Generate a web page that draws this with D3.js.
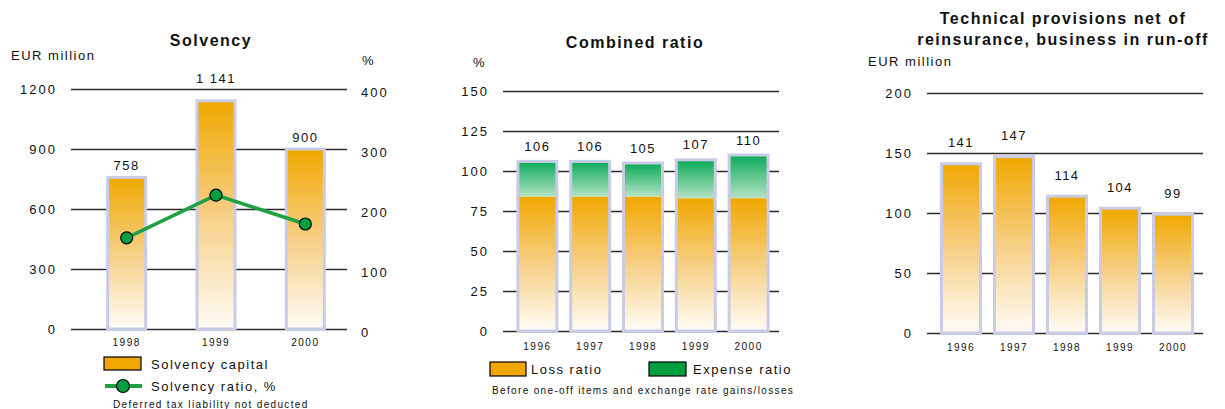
<!DOCTYPE html>
<html>
<head>
<meta charset="utf-8">
<script src="https://cdn.jsdelivr.net/npm/d3@7"></script>
<style>
  html, body { margin: 0; padding: 0; background: #fff; }
  svg { display: block; font-family: "Liberation Sans", Arial, Helvetica, sans-serif; }
  text { fill: #111; }
</style>
</head>
<body>
<svg id="chart" width="1225" height="409"></svg>
<script>
// ---------- DATA ----------
const solvYears = ["1998", "1999", "2000"];
const solvCapital = [758, 1141, 900];
const solvCapitalLabels = ["758", "1 141", "900"];
const solvRatio = [152, 223, 175];
const solvLeftTicks = [0, 300, 600, 900, 1200];
const solvRightTicks = [0, 100, 200, 300, 400];

const crYears = ["1996", "1997", "1998", "1999", "2000"];
const lossRatio = [84, 84, 84, 83, 83];
const expenseRatio = [22, 22, 21, 24, 27];
const combinedTotal = [106, 106, 105, 107, 110];
const crTicks = [0, 25, 50, 75, 100, 125, 150];

const tpYears = ["1996", "1997", "1998", "1999", "2000"];
const tpValues = [141, 147, 114, 104, 99];
const tpTicks = [0, 50, 100, 150, 200];

// ---------- STYLE ----------
const ORANGE = "#f0a800";
const GREEN = "#00a040";
const LINE_GREEN = "#1fa043";
const BAR_STROKE = "#c8cce6";
const GRID = "#2a2a2a";

const svg = d3.select("#chart");
const defs = svg.append("defs");
function grad(id, stops) {
  const g = defs.append("linearGradient").attr("id", id)
    .attr("x1", 0).attr("y1", 0).attr("x2", 0).attr("y2", 1);
  stops.forEach(s => g.append("stop").attr("offset", s[0]).attr("stop-color", s[1]));
}
grad("gOrange", [[0, "#f0a800"], [0.5, "#f7cf85"], [1, "#fffcf6"]]);
grad("gGreen", [[0, "#0aaa58"], [1, "#b4e2c4"]]);

function styleText(sel, size, ls, weight) {
  sel.style("font-size", size + "px").style("letter-spacing", ls + "px")
     .style("font-weight", weight || "normal").attr("fill", "#111");
  return sel;
}

function gridAxis(g, scale, x0, x1, ticks, padding) {
  const ax = d3.axisLeft(scale).tickValues(ticks).tickFormat(d3.format("d"))
    .tickSize(-(x1 - x0)).tickPadding(padding);
  const a = g.append("g").attr("transform", `translate(${x0},0)`).call(ax);
  a.select(".domain").remove();
  a.selectAll(".tick line").attr("stroke", GRID).attr("stroke-width", 1.3);
  styleText(a.selectAll(".tick text"), 13, 2).attr("dy", "0.35em");
  a.attr("font-family", null);
  return a;
}
function yearAxis(g, xs, y0, dy) {
  const ax = d3.axisBottom(xs).tickSize(0);
  const a = g.append("g").attr("transform", `translate(0,${y0})`).call(ax);
  a.select(".domain").remove();
  styleText(a.selectAll(".tick text"), 10, 1.5).attr("y", dy).attr("dy", "0.35em");
  a.attr("font-family", null);
  return a;
}
function label(g, x, y, txt, size, ls, anchor, weight) {
  return styleText(g.append("text").attr("x", x).attr("y", y).attr("dy", "0.35em")
    .attr("text-anchor", anchor || "start").text(txt), size, ls, weight);
}

// =============== CHART 1: Solvency ===============
{
  const g = svg.append("g");
  const gx0 = 71, gx1 = 347;
  const yL = d3.scaleLinear().domain([0, 1200]).range([329, 89]);
  const yR = d3.scaleLinear().domain([0, 400]).range([329, 89]);
  const x = d3.scaleBand().domain(solvYears).range([82, 350]).paddingInner(0.56).paddingOuter(0.28);
  const bw = 38;

  gridAxis(g, yL, gx0, gx1, solvLeftTicks, 14);
  const ar = g.append("g").attr("transform", `translate(${gx1},0)`)
    .call(d3.axisRight(yR).tickValues(solvRightTicks).tickFormat(d3.format("d")).tickSize(0).tickPadding(14));
  ar.select(".domain").remove();
  ar.attr("font-family", null);
  styleText(ar.selectAll(".tick text"), 13, 2).attr("dy", "0.6em");

  const cx = d => x(d) + x.bandwidth() / 2;
  g.selectAll(".b1").data(solvYears).enter().append("rect")
    .attr("x", d => cx(d) - bw / 2)
    .attr("y", (d, i) => yL(solvCapital[i]))
    .attr("width", bw)
    .attr("height", (d, i) => yL(0) - yL(solvCapital[i]))
    .attr("fill", "url(#gOrange)")
    .attr("stroke", BAR_STROKE).attr("stroke-width", 3);

  const top = yL(1200);
  solvYears.forEach((d, i) => {
    let ly = yL(solvCapital[i]) - 12;
    if (ly < top + 6) ly = top - 11;
    label(g, cx(d), ly, solvCapitalLabels[i], 13, 1.5, "middle");
  });

  const line = d3.line().x((d, i) => cx(solvYears[i])).y(d => yR(d));
  g.append("path").datum(solvRatio).attr("d", line)
    .attr("fill", "none").attr("stroke", LINE_GREEN).attr("stroke-width", 3.5);
  g.selectAll(".pt").data(solvRatio).enter().append("circle")
    .attr("cx", (d, i) => cx(solvYears[i])).attr("cy", d => yR(d)).attr("r", 6)
    .attr("fill", GREEN).attr("stroke", "#000").attr("stroke-width", 1.2);

  yearAxis(g, x, 329, 13);

  label(g, 211, 40, "Solvency", 16, 1.5, "middle", "bold");
  label(g, 11, 55, "EUR million", 13, 1.5);
  label(g, 362, 60, "%", 13, 1.5);

  // legend
  g.append("rect").attr("x", 104).attr("y", 357).attr("width", 37).attr("height", 13)
    .attr("fill", ORANGE).attr("stroke", "#000").attr("stroke-width", 1.2);
  label(g, 151, 364, "Solvency capital", 13, 1.5);
  g.append("line").attr("x1", 105).attr("x2", 142).attr("y1", 386).attr("y2", 386)
    .attr("stroke", LINE_GREEN).attr("stroke-width", 4);
  g.append("circle").attr("cx", 123).attr("cy", 386).attr("r", 6.5)
    .attr("fill", GREEN).attr("stroke", "#000").attr("stroke-width", 1.2);
  label(g, 151, 386, "Solvency ratio, %", 13, 1.5);
  label(g, 113, 404, "Deferred tax liability not deducted", 10, 1.35);
}

// =============== CHART 2: Combined ratio ===============
{
  const g = svg.append("g");
  const gx0 = 503, gx1 = 779;
  const y = d3.scaleLinear().domain([0, 150]).range([331, 91]);
  const x = d3.scaleBand().domain(crYears).range([511, 775]).paddingInner(0.26).paddingOuter(0.13);
  const bw = 39;
  const cx = d => x(d) + x.bandwidth() / 2;

  gridAxis(g, y, gx0, gx1, crTicks, 14);

  crYears.forEach((d, i) => {
    const l = lossRatio[i], e = expenseRatio[i];
    g.append("rect").attr("x", cx(d) - bw / 2).attr("y", y(l)).attr("width", bw)
      .attr("height", y(0) - y(l)).attr("fill", "url(#gOrange)");
    g.append("rect").attr("x", cx(d) - bw / 2).attr("y", y(l + e)).attr("width", bw)
      .attr("height", y(l) - y(l + e)).attr("fill", "url(#gGreen)");
    g.append("rect").attr("x", cx(d) - bw / 2).attr("y", y(l + e)).attr("width", bw)
      .attr("height", y(0) - y(l + e)).attr("fill", "none")
      .attr("stroke", BAR_STROKE).attr("stroke-width", 3);
    label(g, cx(d), y(l + e) - 15, String(combinedTotal[i]), 13, 1.5, "middle");
  });

  yearAxis(g, x, 331, 15);

  label(g, 635, 42, "Combined ratio", 16, 1.5, "middle", "bold");
  label(g, 473, 62, "%", 13, 1.5);

  g.append("rect").attr("x", 490).attr("y", 362).attr("width", 36).attr("height", 14)
    .attr("fill", ORANGE).attr("stroke", "#000").attr("stroke-width", 1.2);
  label(g, 531, 369, "Loss ratio", 13, 1.5);
  g.append("rect").attr("x", 649).attr("y", 362).attr("width", 37).attr("height", 14)
    .attr("fill", GREEN).attr("stroke", "#000").attr("stroke-width", 1.2);
  label(g, 693, 369, "Expense ratio", 13, 1.5);
  label(g, 492, 390, "Before one-off items and exchange rate gains/losses", 10, 1.35);
}

// =============== CHART 3: Technical provisions ===============
{
  const g = svg.append("g");
  const gx0 = 927, gx1 = 1203;
  const y = d3.scaleLinear().domain([0, 200]).range([333, 93]);
  const x = d3.scaleBand().domain(tpYears).range([934.5, 1199.5]).paddingInner(0.26).paddingOuter(0.13);
  const bw = 39;
  const cx = d => x(d) + x.bandwidth() / 2;

  gridAxis(g, y, gx0, gx1, tpTicks, 14);

  g.selectAll(".b3").data(tpValues).enter().append("rect")
    .attr("x", (d, i) => cx(tpYears[i]) - bw / 2)
    .attr("y", d => y(d)).attr("width", bw).attr("height", d => y(0) - y(d))
    .attr("fill", "url(#gOrange)")
    .attr("stroke", BAR_STROKE).attr("stroke-width", 3);
  tpValues.forEach((v, i) => label(g, cx(tpYears[i]), y(v) - 21, String(v), 13, 1.5, "middle"));

  yearAxis(g, x, 333, 14);

  label(g, 1063, 18, "Technical provisions net of", 16, 1.5, "middle", "bold");
  label(g, 1063, 39, "reinsurance, business in run-off", 16, 1.5, "middle", "bold");
  label(g, 868, 61, "EUR million", 13, 1.5);
}
</script>
</body>
</html>
